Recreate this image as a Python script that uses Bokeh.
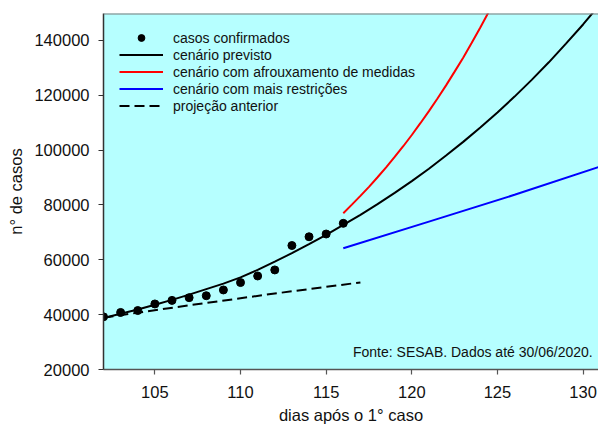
from bokeh.plotting import figure
from bokeh.models import Range1d, FixedTicker, Legend, LegendItem, Label, Span, BasicTickFormatter
from bokeh.embed import file_html
from bokeh.resources import INLINE

# ---- data ----
days = [102, 103, 104, 105, 106, 107, 108, 109, 110, 111, 112, 113, 114, 115, 116]
cases = [39200, 40800, 41500, 43900, 45200, 46200, 46900, 49000, 51700, 54100, 56300, 65200, 68400, 69400, 73300]

prev_x = [102, 103, 104, 105, 106, 107, 108, 109, 110, 111, 112, 113, 114, 115, 116, 117,
          118, 119, 120, 121, 122, 123, 124, 125, 126, 127, 128, 129, 130, 131]
prev_y = [38800, 40300, 41900, 43600, 45400, 47300, 49300, 51300, 53600, 56300, 59300, 62400, 65700, 69100, 72700, 76400,
          80300, 84400, 88700, 93200, 98000, 103000, 108200, 113700, 119500, 125600, 132000, 138800, 145800, 153300]

afroux_x = [116, 116.5, 117, 117.5, 118, 118.5, 119, 119.5, 120, 120.5, 121, 121.5, 122, 122.5, 123, 123.5, 124, 124.5, 125]
afroux_y = [77000, 80100, 83300, 86600, 90100, 93700, 97500, 101400, 105500, 109800, 114200, 118800, 123600,
            128600, 133700, 139100, 144700, 150500, 156600]

restr_x = [116, 121, 126, 131]
restr_y = [64200, 73900, 83700, 94000]

proj_x = [102, 107, 112, 117]
proj_y = [38900, 43400, 47700, 51750]

x_ticks = [105, 110, 115, 120, 125, 130]
y_ticks = [20000, 40000, 60000, 80000, 100000, 120000, 140000]

FONT = "Liberation Sans"

p = figure(width=598, height=426, output_backend="svg", toolbar_location=None,
           x_range=Range1d(102, 130.9), y_range=Range1d(20000, 149800),
           min_border_left=103, min_border_right=0, min_border_top=13, min_border_bottom=56)
p.background_fill_color = "#b6ffff"
p.border_fill_color = "white"
p.outline_line_color = None
p.grid.visible = False

for ax, col in ((p.xaxis[0], "#555555"), (p.yaxis[0], "#333333")):
    ax.axis_line_color = col
    ax.axis_line_width = 1.5
    ax.major_tick_line_color = col
    ax.major_tick_line_width = 1.2
    ax.major_tick_out = 5
    ax.major_tick_in = 0
    ax.minor_tick_line_color = None
    ax.major_label_text_font = FONT
    ax.major_label_text_font_size = "16.5px"
    ax.major_label_text_color = "#111111"
    ax.axis_label_text_font = FONT
    ax.axis_label_text_font_size = "16.5px"
    ax.axis_label_text_font_style = "normal"
    ax.axis_label_text_color = "#111111"

p.xaxis.ticker = FixedTicker(ticks=x_ticks)
p.yaxis.ticker = FixedTicker(ticks=y_ticks)
p.yaxis.formatter = BasicTickFormatter(use_scientific=False)
p.xaxis.axis_label = "dias após o 1° caso"
p.yaxis.axis_label = "n° de casos"
p.xaxis.major_label_standoff = 11
p.yaxis.major_label_standoff = 9
p.xaxis.axis_label_standoff = 5
p.yaxis.axis_label_standoff = 6

top_line = Span(location=149800, dimension="width", line_color="#7a7a7a", line_width=2)
p.add_layout(top_line)

r_red = p.line(afroux_x, afroux_y, line_color="#ff0000", line_width=2)
r_blue = p.line(restr_x, restr_y, line_color="#0000ff", line_width=2)
r_dash = p.line(proj_x, proj_y, line_color="black", line_width=2, line_dash="10 5")
r_black = p.line(prev_x, prev_y, line_color="black", line_width=2)
r_pts = p.scatter(days, cases, size=8, color="black")

legend = Legend(items=[
    LegendItem(label="casos confirmados", renderers=[r_pts]),
    LegendItem(label="cenário previsto", renderers=[r_black]),
    LegendItem(label="cenário com afrouxamento de medidas", renderers=[r_red]),
    LegendItem(label="cenário com mais restrições", renderers=[r_blue]),
    LegendItem(label="projeção anterior", renderers=[r_dash]),
], location="top_left")
legend.margin = 3
legend.padding = 13
legend.spacing = 0
legend.glyph_width = 44
legend.glyph_height = 17
legend.label_height = 17
legend.label_standoff = 10
legend.label_text_font = FONT
legend.label_text_font_size = "14px"
legend.label_text_color = "#111111"
legend.border_line_alpha = 0
legend.background_fill_alpha = 0
p.add_layout(legend)

src = Label(x=130.56, y=26300, text="Fonte: SESAB. Dados até 30/06/2020.",
            text_align="right", text_baseline="middle",
            text_font=FONT, text_font_size="14px", text_color="#111111")
p.add_layout(src)

open("out.html", "w").write(file_html(p, INLINE))
